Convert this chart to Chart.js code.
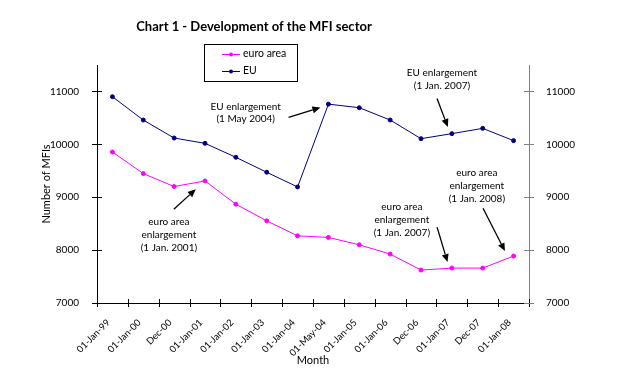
<!DOCTYPE html>
<html>
<head>
<meta charset="utf-8">
<script src="https://cdn.jsdelivr.net/npm/chart.js@4"></script>
<style>
  body { margin: 0; background: #fff; }
  canvas { display: block; }
</style>
</head>
<body>
<canvas id="mfi" width="623" height="392"></canvas>
<script>
// data
const categories = ['01-Jan-99', '01-Jan-00', 'Dec-00', '01-Jan-01', '01-Jan-02', '01-Jan-03', '01-Jan-04',
                    '01-May-04', '01-Jan-05', '01-Jan-06', 'Dec-06', '01-Jan-07', 'Dec-07', '01-Jan-08'];
const euroArea = [9855, 9447, 9202, 9308, 8868, 8553, 8270, 8240, 8100, 7925, 7623, 7660, 7660, 7887];
const eu = [10900, 10459, 10119, 10019, 9755, 9472, 9194, 10760, 10692, 10460, 10107, 10202, 10302, 10070];
const yTicks = [7000, 8000, 9000, 10000, 11000];

// notes: text centre, arrow start, arrow tip, in (category index, value)
const notes = [
  { lines: ['EU enlargement', '(1 May 2004)'], at: [4.32, 10717], from: [5.71, 10509], to: [6.74, 10698] },
  { lines: ['EU enlargement', '(1 Jan. 2007)'], at: [10.68, 11358], from: [10.52, 10868], to: [10.87, 10326] },
  { lines: ['euro area', 'enlargement', '(1 Jan. 2001)'], at: [1.83, 8528], from: [1.99, 8774], to: [2.70, 9151] },
  { lines: ['euro area', 'enlargement', '(1 Jan. 2007)'], at: [9.38, 8811], from: [10.52, 8434], to: [10.86, 7774] },
  { lines: ['euro area', 'enlargement', '(1 Jan. 2008)'], at: [11.81, 9453], from: [12.01, 8792], to: [12.72, 7981] }
];

const FONT = 'Lato, "Open Sans", sans-serif';
const MAGENTA = '#ff00ff';
const NAVY = '#000080';

function arrow(ctx, x1, y1, x2, y2) {
  const ang = Math.atan2(y2 - y1, x2 - x1);
  const len = 8, w = 3.5;
  const bx = x2 - len * Math.cos(ang), by = y2 - len * Math.sin(ang);
  ctx.beginPath();
  ctx.moveTo(x1, y1);
  ctx.lineTo(bx, by);
  ctx.stroke();
  ctx.beginPath();
  ctx.moveTo(x2, y2);
  ctx.lineTo(bx + w * Math.sin(ang), by - w * Math.cos(ang));
  ctx.lineTo(bx - w * Math.sin(ang), by + w * Math.cos(ang));
  ctx.closePath();
  ctx.fill();
}

const decor = {
  id: 'decor',
  afterDraw(chart) {
    const ctx = chart.ctx;
    const x = chart.scales.x, y = chart.scales.y, y2 = chart.scales.y2;
    const a = chart.chartArea;
    ctx.save();

    // title
    ctx.fillStyle = '#000';
    ctx.font = 'bold 13px ' + FONT;
    ctx.textAlign = 'center';
    ctx.textBaseline = 'middle';
    ctx.fillText('Chart 1 - Development of the MFI sector', 254, 27);

    // y title
    ctx.save();
    ctx.translate(46, (a.top + a.bottom) / 2);
    ctx.rotate(-Math.PI / 2);
    ctx.font = '11px ' + FONT;
    ctx.fillText('Number of MFIs', 0, 0);
    ctx.restore();

    // tick marks crossing the axes
    ctx.lineWidth = 1;
    ctx.strokeStyle = '#000';
    ctx.beginPath();
    for (let i = 0; i <= categories.length; i++) {
      const px = Math.round(x.getPixelForValue(i - 0.5)) + 0.5;
      ctx.moveTo(px, a.bottom - 4);
      ctx.lineTo(px, a.bottom + 4);
    }
    yTicks.forEach(v => {
      const py = Math.round(y.getPixelForValue(v)) + 0.5;
      ctx.moveTo(a.left - 5, py);
      ctx.lineTo(a.left + 5, py);
    });
    ctx.stroke();
    ctx.strokeStyle = '#808080';
    ctx.beginPath();
    yTicks.forEach(v => {
      const py = Math.round(y2.getPixelForValue(v)) + 0.5;
      ctx.moveTo(a.right - 5, py);
      ctx.lineTo(a.right + 5, py);
    });
    ctx.stroke();

    // legend box
    ctx.fillStyle = '#fff';
    ctx.fillRect(204, 44, 93, 37);
    ctx.strokeStyle = '#000';
    ctx.strokeRect(204.5, 44.5, 93, 37);
    [[ 'euro area', MAGENTA, 54 ], [ 'EU', NAVY, 71 ]].forEach(([txt, col, ly]) => {
      ctx.strokeStyle = col;
      ctx.fillStyle = col;
      ctx.beginPath();
      ctx.moveTo(222, ly + 0.5);
      ctx.lineTo(240, ly + 0.5);
      ctx.stroke();
      ctx.beginPath();
      ctx.arc(231, ly + 0.5, 2, 0, Math.PI * 2);
      ctx.fill();
      ctx.fillStyle = '#000';
      ctx.font = '10.5px ' + FONT;
      ctx.textAlign = 'left';
      ctx.fillText(txt, 243, ly);
    });

    // annotations
    ctx.fillStyle = '#000';
    ctx.strokeStyle = '#000';
    ctx.lineWidth = 1.3;
    ctx.font = '10px ' + FONT;
    ctx.textAlign = 'center';
    notes.forEach(n => {
      const tx = x.getPixelForValue(n.at[0]), ty = y.getPixelForValue(n.at[1]);
      n.lines.forEach((l, k) => ctx.fillText(l, tx, ty + k * 12.8));
      arrow(ctx, x.getPixelForValue(n.from[0]), y.getPixelForValue(n.from[1]),
                 x.getPixelForValue(n.to[0]), y.getPixelForValue(n.to[1]));
    });
    ctx.restore();
  }
};

const tickFont = { family: FONT, size: 10 };
const plain = v => String(v);

new Chart(document.getElementById('mfi'), {
  type: 'line',
  data: {
    labels: categories,
    datasets: [
      {
        label: 'euro area',
        data: euroArea,
        borderColor: MAGENTA,
        backgroundColor: MAGENTA,
        borderWidth: 1,
        pointRadius: 2,
        tension: 0,
        yAxisID: 'y'
      },
      {
        label: 'EU',
        data: eu,
        borderColor: NAVY,
        backgroundColor: NAVY,
        borderWidth: 1,
        pointRadius: 2,
        tension: 0,
        yAxisID: 'y'
      }
    ]
  },
  options: {
    responsive: false,
    animation: false,
    layout: { padding: { top: 65, left: 0, right: 0, bottom: 0 } },
    plugins: {
      legend: { display: false },
      title: { display: false },
      tooltip: { enabled: false }
    },
    scales: {
      x: {
        type: 'category',
        offset: true,
        grid: { display: false, offset: true },
        border: { color: '#000', width: 1 },
        ticks: { minRotation: 45, maxRotation: 45, autoSkip: false, padding: 6, labelOffset: -4, color: '#000', font: { family: FONT, size: 9.5 } },
        title: { display: true, text: 'Month', color: '#000', font: { family: FONT, size: 11 }, padding: { top: 0, bottom: 25 } },
        afterFit: s => { s.height = 89; }
      },
      y: {
        position: 'left',
        min: 7000,
        max: 11500,
        grid: { display: false },
        border: { color: '#000', width: 1 },
        afterBuildTicks: s => { s.ticks = yTicks.map(v => ({ value: v })); },
        ticks: { padding: 10, color: '#000', font: tickFont, callback: plain },
        afterFit: s => { s.width = 97; }
      },
      y2: {
        position: 'right',
        min: 7000,
        max: 11500,
        grid: { display: false },
        border: { color: '#808080', width: 1 },
        afterBuildTicks: s => { s.ticks = yTicks.map(v => ({ value: v })); },
        ticks: { padding: 9, color: '#000', font: tickFont, callback: plain },
        afterFit: s => { s.width = 94; }
      }
    }
  },
  plugins: [decor]
});
</script>
</body>
</html>
